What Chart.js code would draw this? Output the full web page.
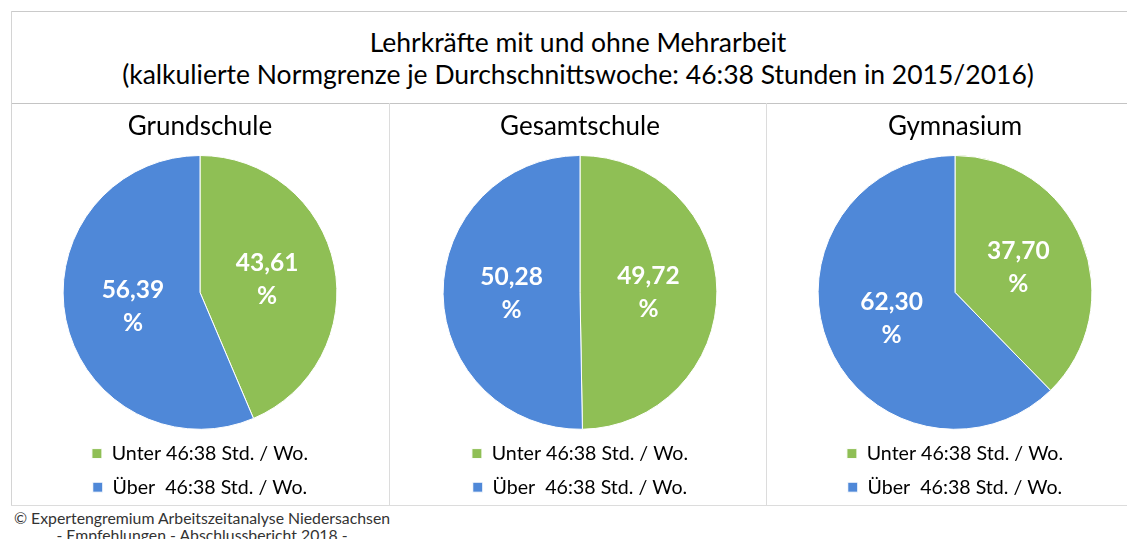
<!DOCTYPE html>
<html>
<head>
<meta charset="utf-8">
<script src="https://cdn.jsdelivr.net/npm/chart.js@4"></script>
<style>
  html, body { margin: 0; padding: 0; background: #fff; overflow: hidden; }
  body { width: 1127px; height: 539px; position: relative; font-family: Lato, sans-serif; }
  .line { position: absolute; background: #d4d4d4; z-index: 2; }
  #title { position: absolute; left: 11px; top: 11px; width: 1134px; padding-top: 15px;
           text-align: center; font-size: 26.5px; line-height: 32px; color: #000; }
  canvas { position: absolute; top: 104px; }
  #footer { position: absolute; left: 2px; top: 509px; width: 400px; text-align: center;
            white-space: nowrap; font-size: 15.8px; line-height: 17px; color: #333; }
</style>
</head>
<body>
<div class="line" style="left:11px;top:11px;width:1116px;height:1px;background:#cacaca"></div>
<div class="line" style="left:11px;top:103px;width:1116px;height:1px;background:#c4c4c4"></div>
<div class="line" style="left:11px;top:11px;width:1px;height:495px"></div>
<div class="line" style="left:389px;top:103px;width:1px;height:402px;background:#dcdcdc"></div>
<div class="line" style="left:766px;top:103px;width:1px;height:402px;background:#dcdcdc"></div>
<div class="line" style="left:11px;top:505px;width:1116px;height:1px;background:#dcdcdc"></div>

<div id="title">Lehrkräfte mit und ohne Mehrarbeit<br>(kalkulierte Normgrenze je Durchschnittswoche: 46:38 Stunden in 2015/2016)</div>

<canvas id="c1" width="340" height="403" style="left:30px"></canvas>
<canvas id="c2" width="340" height="403" style="left:410px"></canvas>
<canvas id="c3" width="340" height="403" style="left:785px"></canvas>

<div id="footer">© Expertengremium Arbeitszeitanalyse Niedersachsen<br>- Empfehlungen - Abschlussbericht 2018 -</div>

<script>
// categories (legend labels)
const categories = ['Unter 46:38 Std. / Wo.', 'Über  46:38 Std. / Wo.'];
// school types (one pie each)
const schools = ['Grundschule', 'Gesamtschule', 'Gymnasium'];
// shares in percent: [unter, über]
const grundschule = [43.61, 56.39];
const gesamtschule = [49.72, 50.28];
const gymnasium = [37.70, 62.30];

const colors = ['#8fbf55', '#4f88d8'];

// draw "43,61" / "%" inside each slice at half radius
const valueLabels = {
    id: 'valueLabels',
    afterDatasetsDraw(chart) {
        const ctx = chart.ctx;
        const meta = chart.getDatasetMeta(0);
        ctx.save();
        ctx.fillStyle = '#fff';
        ctx.font = 'bold 24.5px Lato';
        ctx.textAlign = 'center';
        ctx.textBaseline = 'middle';
        meta.data.forEach((arc, i) => {
            const p = arc.getCenterPoint();
            const v = chart.data.datasets[0].data[i];
            ctx.fillText(v.toFixed(2).replace('.', ','), p.x, p.y - 16);
            ctx.fillText('%', p.x, p.y + 17);
        });
        ctx.restore();
    }
};

const makePie = (id, title, values) => {
    const ctx = document.getElementById(id).getContext('2d');
    return new Chart(ctx, {
        type: 'pie',
        data: {
            labels: categories,
            datasets: [{
                data: values,
                backgroundColor: colors,
                borderColor: '#fff',
                borderWidth: 1,
                hoverOffset: 0
            }]
        },
        options: {
            responsive: false,
            animation: false,
            layout: { padding: 0 },
            plugins: {
                title: {
                    display: true,
                    text: title,
                    color: '#000',
                    font: { family: 'Lato', size: 26, weight: 'normal' },
                    padding: { top: 7.4, bottom: 12.4 }
                },
                legend: {
                    position: 'bottom',
                    align: 'center',
                    labels: {
                        color: '#000',
                        font: { family: 'Lato', size: 19.6 },
                        boxWidth: 10,
                        boxHeight: 10,
                        padding: 14
                    }
                },
                tooltip: { enabled: false }
            }
        },
        plugins: [valueLabels]
    });
};

makePie('c1', schools[0], grundschule);
makePie('c2', schools[1], gesamtschule);
makePie('c3', schools[2], gymnasium);
</script>
</body>
</html>
